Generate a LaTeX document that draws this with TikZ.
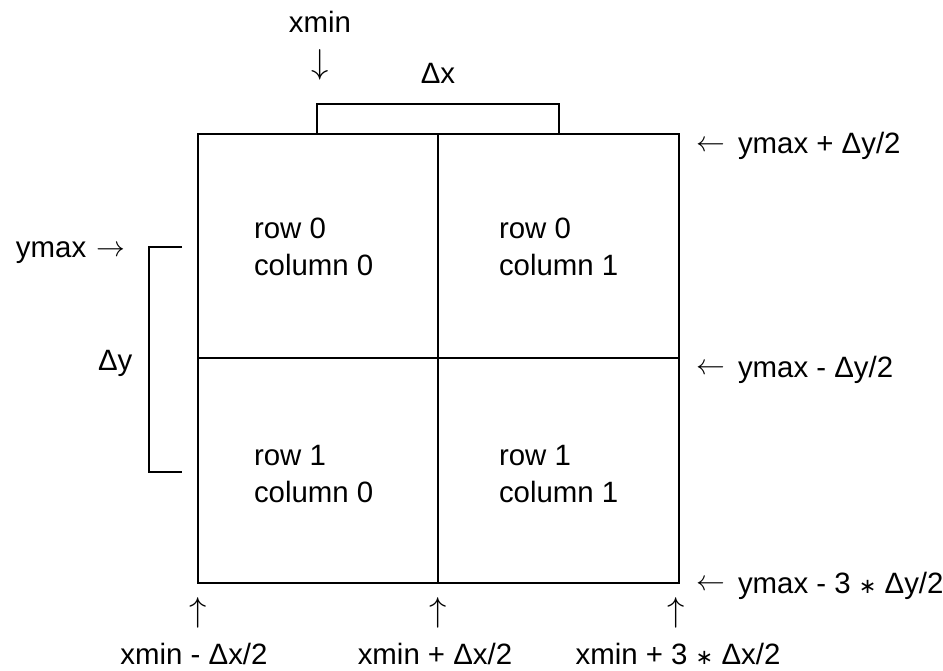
\documentclass[tikz,border=0pt]{standalone}
\usepackage{fontspec}
\setmainfont{Liberation Sans}
\newfontfamily\symfont{DejaVu Sans}
\newcommand{\astop}{{\symfont\fontsize{10.5}{12}\selectfont ∗}}
\begin{document}
\begin{tikzpicture}[x=0.5pt,y=-0.5pt,line width=1pt,
  lbl/.style={inner sep=0pt,font=\fontsize{14.7}{17}\selectfont},
  arr/.style={inner sep=0pt,font=\fontsize{15}{17}\selectfont},
  varr/.style={inner sep=0pt,font=\fontsize{17.5}{20}\selectfont}]
\useasboundingbox (0,0) rectangle (943,670);
% grid corners and mid points
\coordinate (NW) at (198,134);
\coordinate (NE) at (679,134);
\coordinate (SW) at (198,583);
\coordinate (SE) at (679,583);
\coordinate (N) at (438,134);
\coordinate (S) at (438,583);
\coordinate (W) at (198,358);
\coordinate (E) at (679,358);
% the 2x2 grid
\draw (NW) rectangle (SE);
\draw (N) -- (S);
\draw (W) -- (E);
% delta-x bracket over the top
\coordinate (bxl) at (317,134);
\coordinate (bxr) at (559,134);
\draw (bxl) -- ++(0,-30) -| (bxr);
% delta-y bracket on the left
\coordinate (byt) at (182,247);
\coordinate (byb) at (182,472);
\draw (byt) -- ++(-33,0) |- (byb);
% cell labels
\node[lbl,anchor=base west] (r00) at (253,238) {row 0};
\node[lbl,anchor=base west] (c00) at (253,275) {column 0};
\node[lbl,anchor=base west] (r01) at (498,238) {row 0};
\node[lbl,anchor=base west] (c01) at (498,275) {column 1};
\node[lbl,anchor=base west] (r10) at (253,465) {row 1};
\node[lbl,anchor=base west] (c10) at (253,502) {column 0};
\node[lbl,anchor=base west] (r11) at (498,465) {row 1};
\node[lbl,anchor=base west] (c11) at (498,502) {column 1};
% top annotations
\node[lbl,anchor=base] (xmin) at (320,32) {xmin};
\node[varr] (xminarr) at (320,65) {$\downarrow$};
\node[lbl,anchor=base] (dx) at (438,83) {Δx};
% left annotations
\node[lbl,anchor=base west] (ymax) at (15,257) {ymax};
\node[arr] (ymaxarr) at (111,251) {$\rightarrow$};
\node[lbl,anchor=base west] (dy) at (97,370) {Δy};
% right annotations
\node[arr] (yta) at (711,146) {$\leftarrow$};
\node[lbl,anchor=base west] (yt) at (737,153) {ymax + Δy/2};
\node[arr] (yma) at (711,369) {$\leftarrow$};
\node[lbl,anchor=base west] (ym) at (737,377) {ymax - Δy/2};
\node[arr] (yba) at (711,585) {$\leftarrow$};
\node[lbl,anchor=base west] (yb) at (737,593) {ymax - 3 \astop{} Δy/2};
% bottom annotations
\node[varr] (ua) at (198,613) {$\uparrow$};
\node[varr] (ub) at (438,613) {$\uparrow$};
\node[varr] (uc) at (676,613) {$\uparrow$};
\node[lbl,anchor=base] (xa) at (194,664) {xmin - Δx/2};
\node[lbl,anchor=base] (xb) at (435,664) {xmin + Δx/2};
\node[lbl,anchor=base] (xc) at (678,664) {xmin + 3 \astop{} Δx/2};
\end{tikzpicture}
\end{document}
